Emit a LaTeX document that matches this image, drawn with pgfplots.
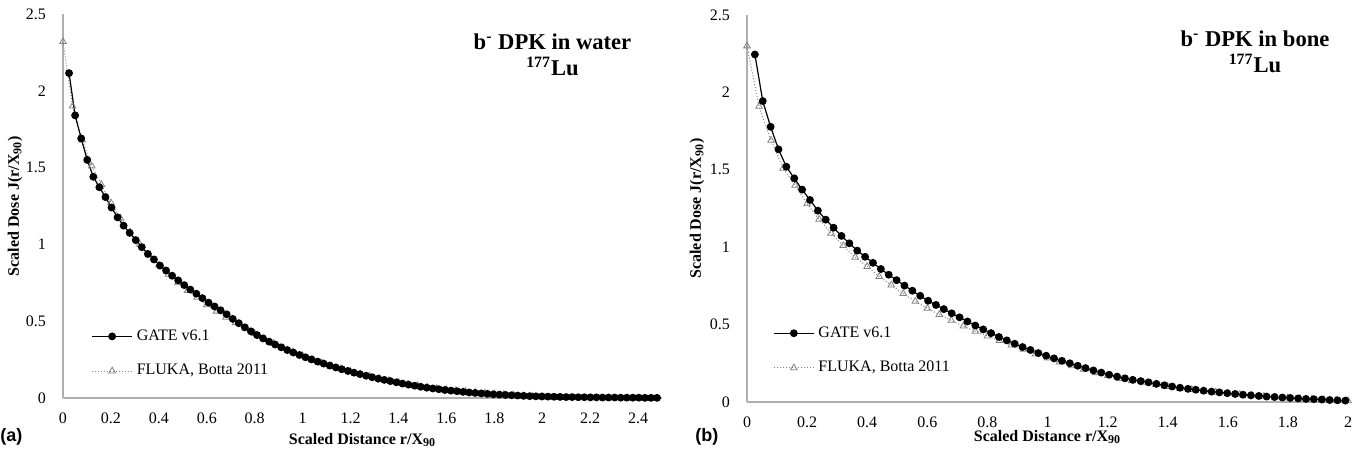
\documentclass[border=0pt]{standalone}
\usepackage{fontspec}
\setmainfont{Liberation Serif}
\newfontfamily\sansb{Liberation Sans}
\usepackage{pgfplots}
\pgfplotsset{compat=1.18}
\definecolor{axgray}{RGB}{175,175,175}
\definecolor{flgray}{RGB}{130,130,130}
\pgfplotsset{
  myaxis/.style={
    scale only axis, axis x line=bottom, axis y line=left,
    axis line style={axgray, line width=0.7pt, -},
    major tick length=0pt, ymin=0, ymax=2.5, ytick={0,0.5,1,1.5,2,2.5},
    tick label style={font=\fontsize{8pt}{9.6pt}\selectfont},
    /pgf/number format/assume math mode=true,
    xticklabel style={yshift=-4pt},
    yticklabel style={xshift=-5pt},
    clip=false,
    xlabel style={font=\bfseries\fontsize{8pt}{9.6pt}\selectfont, anchor=center},
    ylabel style={font=\bfseries\fontsize{8pt}{9.6pt}\selectfont, anchor=center},
    reverse legend,
    legend cell align=left,
    legend style={draw=none, fill=none, font=\fontsize{8pt}{9.6pt}\selectfont, row sep=6.5pt, anchor=north west},
    legend image code/.code={\draw[mark repeat=2,mark phase=2,##1] plot coordinates {(0pt,0pt) (10pt,0pt) (20pt,0pt)};},
  },
  gate/.style={black, line width=0.6pt, mark=*, mark size=1.65pt, mark options={solid, fill=black}},
  fluka/.style={flgray, line width=0.5pt, densely dotted, mark=triangle, mark size=1.9pt, mark options={solid, draw=flgray, fill=white, line width=0.4pt}},
}
\begin{document}
\begin{tikzpicture}
\useasboundingbox (0,0) rectangle (681.5pt,230pt);
% ---------------- (a) water ----------------
\begin{axis}[myaxis, at={(31.5pt,31pt)}, anchor=south west,
  width=299.5pt, height=192pt, xmin=0, xmax=2.5,
  xtick={0,0.2,0.4,0.6,0.8,1,1.2,1.4,1.6,1.8,2,2.2,2.4},
  xlabel={Scaled Distance r/X\textsubscript{90}},
  ylabel={Scaled Dose J(r/X\textsubscript{90})},
  xlabel style={at={(axis description cs:0.5,-0.109)}},
  ylabel style={at={(axis description cs:-0.080,0.5)}},
  legend style={at={(axis description cs:0.037,0.20)}},
]
\addplot[fluka] coordinates {
(0,2.32)(0.04,1.90)(0.08,1.68)(0.12,1.51)(0.16,1.39)(0.20,1.27)(0.24,1.17)(0.28,1.08)(0.32,1.00)(0.36,0.93)(0.40,0.865)(0.44,0.805)(0.48,0.75)(0.52,0.70)(0.56,0.655)(0.60,0.607)(0.64,0.565)(0.68,0.525)(0.72,0.49)(0.76,0.455)(0.80,0.42)(0.84,0.385)(0.88,0.355)(0.92,0.325)(0.96,0.30)(1.00,0.275)(1.04,0.25)(1.08,0.228)(1.12,0.208)(1.16,0.19)(1.20,0.172)(1.24,0.156)(1.28,0.141)(1.32,0.127)(1.36,0.114)(1.40,0.102)(1.44,0.09)(1.48,0.08)(1.52,0.07)(1.56,0.062)(1.60,0.055)(1.64,0.048)(1.68,0.042)(1.72,0.036)(1.76,0.031)(1.80,0.026)(1.84,0.022)(1.88,0.018)(1.92,0.014)(1.96,0.011)(2.00,0.008)
};
\addlegendentry{FLUKA, Botta 2011}
\addplot[gate] coordinates {
(0.0253,2.115)(0.0506,1.840)(0.0759,1.690)(0.1012,1.550)(0.1265,1.440)(0.1518,1.372)(0.1771,1.308)(0.2024,1.240)(0.2277,1.176)(0.2530,1.122)(0.2783,1.075)(0.3036,1.028)(0.3289,0.982)(0.3542,0.938)(0.3795,0.902)(0.4048,0.862)(0.4301,0.830)(0.4554,0.796)(0.4807,0.766)(0.5060,0.735)(0.5313,0.706)(0.5566,0.679)(0.5819,0.650)(0.6072,0.621)(0.6325,0.596)(0.6578,0.571)(0.6831,0.545)(0.7084,0.515)(0.7337,0.487)(0.7590,0.460)(0.7843,0.434)(0.8096,0.410)(0.8349,0.388)(0.8602,0.367)(0.8855,0.348)(0.9108,0.330)(0.9361,0.312)(0.9614,0.296)(0.9867,0.280)(1.0120,0.265)(1.0373,0.251)(1.0626,0.237)(1.0879,0.224)(1.1132,0.211)(1.1385,0.199)(1.1638,0.187)(1.1891,0.176)(1.2144,0.165)(1.2397,0.155)(1.2650,0.145)(1.2903,0.135)(1.3156,0.126)(1.3409,0.118)(1.3662,0.110)(1.3915,0.102)(1.4168,0.094)(1.4421,0.087)(1.4674,0.080)(1.4927,0.073)(1.5180,0.067)(1.5433,0.062)(1.5686,0.057)(1.5939,0.052)(1.6192,0.048)(1.6445,0.044)(1.6698,0.040)(1.6951,0.036)(1.7204,0.033)(1.7457,0.030)(1.7710,0.027)(1.7963,0.024)(1.8216,0.022)(1.8469,0.020)(1.8722,0.018)(1.8975,0.016)(1.9228,0.014)(1.9481,0.012)(1.9734,0.011)(1.9987,0.010)(2.0240,0.009)(2.0493,0.008)(2.0746,0.007)(2.0999,0.006)(2.1252,0.006)(2.1505,0.005)(2.1758,0.005)(2.2011,0.004)(2.2264,0.004)(2.2517,0.003)(2.2770,0.003)(2.3023,0.003)(2.3276,0.002)(2.3529,0.002)(2.3782,0.002)(2.4035,0.002)(2.4288,0.001)(2.4541,0.001)(2.4794,0.001)
};
\addlegendentry{GATE v6.1}
\end{axis}
% ---------------- (b) bone ----------------
\begin{axis}[myaxis, at={(373.5pt,29pt)}, anchor=south west,
  width=300.5pt, height=193.5pt, xmin=0, xmax=2,
  xtick={0,0.2,0.4,0.6,0.8,1,1.2,1.4,1.6,1.8,2},
  xlabel={Scaled Distance r/X\textsubscript{90}},
  ylabel={Scaled Dose J(r/X\textsubscript{90})},
  xlabel style={at={(axis description cs:0.5,-0.090)}},
  ylabel style={at={(axis description cs:-0.083,0.5)}},
  legend style={at={(axis description cs:0.033,0.217)}},
]
\addplot[fluka] coordinates {
(0,2.30)(0.04,1.91)(0.08,1.69)(0.12,1.51)(0.16,1.40)(0.20,1.28)(0.24,1.18)(0.28,1.09)(0.32,1.01)(0.36,0.935)(0.40,0.875)(0.44,0.81)(0.48,0.755)(0.52,0.70)(0.56,0.65)(0.60,0.605)(0.64,0.565)(0.68,0.527)(0.72,0.49)(0.76,0.456)(0.80,0.426)(0.84,0.397)(0.88,0.368)(0.92,0.340)(0.96,0.310)(1.00,0.283)(1.04,0.258)(1.08,0.234)(1.12,0.211)(1.16,0.189)(1.20,0.169)(1.24,0.152)(1.28,0.137)(1.32,0.124)(1.36,0.112)(1.40,0.100)(1.44,0.089)(1.48,0.080)(1.52,0.071)(1.56,0.063)(1.60,0.056)(1.64,0.049)(1.68,0.043)(1.72,0.037)(1.76,0.032)(1.80,0.027)(1.84,0.023)(1.88,0.019)(1.92,0.015)(1.96,0.012)(2.00,0.008)
};
\addlegendentry{FLUKA, Botta 2011}
\addplot[gate] coordinates {
(0.0262,2.245)(0.0524,1.944)(0.0786,1.778)(0.1048,1.632)(0.1310,1.520)(0.1572,1.445)(0.1834,1.372)(0.2096,1.305)(0.2358,1.236)(0.2620,1.178)(0.2882,1.126)(0.3144,1.073)(0.3406,1.025)(0.3668,0.978)(0.3930,0.938)(0.4192,0.899)(0.4454,0.859)(0.4716,0.822)(0.4978,0.787)(0.5240,0.752)(0.5502,0.719)(0.5764,0.686)(0.6026,0.654)(0.6288,0.627)(0.6550,0.600)(0.6812,0.573)(0.7074,0.547)(0.7336,0.520)(0.7598,0.494)(0.7860,0.469)(0.8122,0.445)(0.8384,0.420)(0.8646,0.398)(0.8908,0.376)(0.9170,0.355)(0.9432,0.336)(0.9694,0.316)(0.9956,0.299)(1.0218,0.282)(1.0480,0.266)(1.0742,0.250)(1.1004,0.234)(1.1266,0.219)(1.1528,0.204)(1.1790,0.190)(1.2052,0.176)(1.2314,0.164)(1.2576,0.153)(1.2838,0.143)(1.3100,0.135)(1.3362,0.127)(1.3624,0.117)(1.3886,0.108)(1.4148,0.100)(1.4410,0.092)(1.4672,0.085)(1.4934,0.079)(1.5196,0.073)(1.5458,0.067)(1.5720,0.062)(1.5982,0.057)(1.6244,0.052)(1.6506,0.047)(1.6768,0.043)(1.7030,0.039)(1.7292,0.035)(1.7554,0.032)(1.7816,0.029)(1.8078,0.026)(1.8340,0.023)(1.8602,0.020)(1.8864,0.018)(1.9126,0.016)(1.9388,0.013)(1.9650,0.011)(1.9912,0.009)
};
\addlegendentry{GATE v6.1}
\end{axis}
% ---------------- annotations ----------------
\node[font=\bfseries\fontsize{11.3pt}{13pt}\selectfont, align=center] at (276.25pt,202.5pt)
  {b\textsuperscript{-} DPK in water\\\textsuperscript{177}Lu};
\node[font=\bfseries\fontsize{11.3pt}{13pt}\selectfont, align=center] at (627.5pt,204pt)
  {b\textsuperscript{-} DPK in bone\\\textsuperscript{177}Lu};
\node[font=\sansb\bfseries\fontsize{9pt}{10pt}\selectfont, anchor=west, inner sep=0pt] at (0pt,11.5pt) {(a)};
\node[font=\sansb\bfseries\fontsize{9pt}{10pt}\selectfont, anchor=west, inner sep=0pt] at (347.5pt,11.5pt) {(b)};
\end{tikzpicture}
\end{document}
